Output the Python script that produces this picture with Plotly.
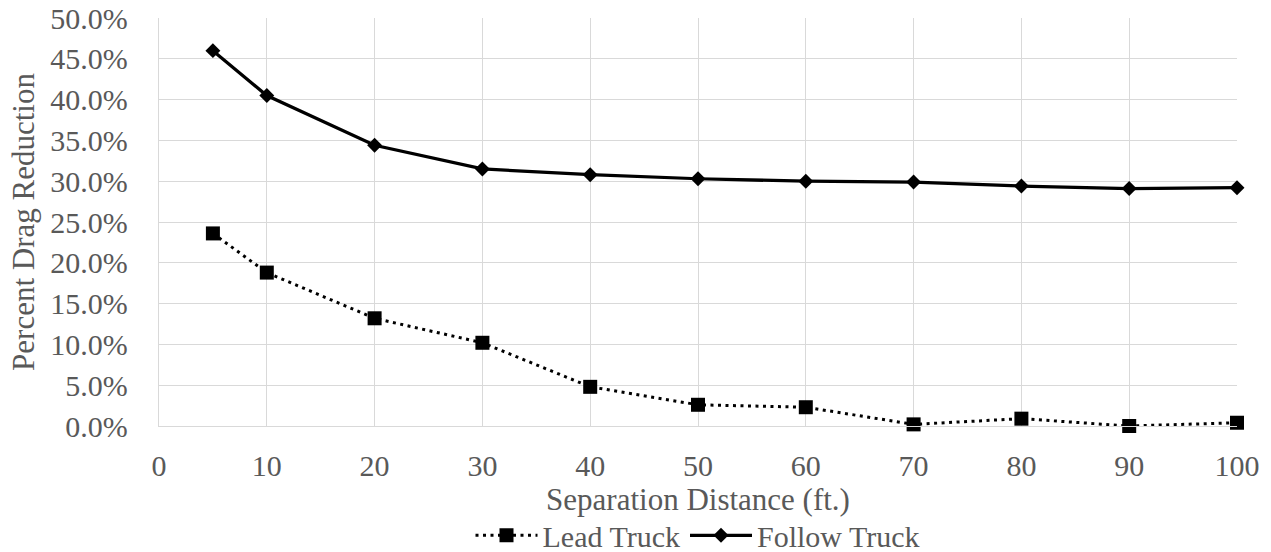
import plotly.graph_objects as go

# Separation distance (ft.) and percent drag reduction for each truck
separation_ft = [5, 10, 20, 30, 40, 50, 60, 70, 80, 90, 100]
lead_truck_pct = [23.6, 18.8, 13.2, 10.2, 4.8, 2.6, 2.3, 0.2, 0.9, 0.0, 0.4]
follow_truck_pct = [46.0, 40.5, 34.4, 31.5, 30.8, 30.3, 30.0, 29.9, 29.4, 29.1, 29.2]

x_ticks = [0, 10, 20, 30, 40, 50, 60, 70, 80, 90, 100]
y_ticks = [0, 5, 10, 15, 20, 25, 30, 35, 40, 45, 50]
y_tick_text = [f"{v:.1f}%" for v in y_ticks]

FONT = "Liberation Serif, Times New Roman, serif"
TEXT = "#595959"
GRID = "#d9d9d9"

fig = go.Figure()
fig.add_trace(go.Scatter(
    x=separation_ft, y=lead_truck_pct, name="Lead Truck",
    mode="lines+markers",
    line=dict(color="black", width=3, dash="3px,4.5px"),
    marker=dict(symbol="square", size=14, color="black"),
    cliponaxis=False,
))
fig.add_trace(go.Scatter(
    x=separation_ft, y=follow_truck_pct, name="Follow Truck",
    mode="lines+markers",
    line=dict(color="black", width=3.25),
    marker=dict(symbol="diamond", size=11.5, color="black"),
    cliponaxis=False,
))

fig.update_layout(
    width=1271, height=552,
    margin=dict(l=159, r=34, t=18, b=126, autoexpand=False),
    paper_bgcolor="white", plot_bgcolor="white",
    font=dict(family=FONT, size=30, color=TEXT),
    showlegend=True,
    legend=dict(
        orientation="h", x=0.5, xanchor="center", y=-0.268, yanchor="middle",
        font=dict(family=FONT, size=30, color=TEXT),
        traceorder="normal", tracegroupgap=0, itemwidth=62,
        bgcolor="rgba(0,0,0,0)",
    ),
)
fig.update_xaxes(
    range=[0, 100], tickvals=x_ticks, showgrid=True, gridcolor=GRID, gridwidth=1.3,
    zeroline=False, showline=True, linecolor=GRID, linewidth=1.3, automargin=False,
    ticks="", ticklabelstandoff=13, tickfont=dict(family=FONT, size=30, color=TEXT),
    title=dict(text="Separation Distance (ft.)", standoff=0,
               font=dict(family=FONT, size=31, color=TEXT)),
)
fig.update_yaxes(
    range=[0, 50], tickvals=y_ticks, ticktext=y_tick_text,
    showgrid=True, gridcolor=GRID, gridwidth=1.3,
    zeroline=False, showline=True, linecolor=GRID, linewidth=1.3, automargin=False,
    ticks="", ticklabelstandoff=24, tickfont=dict(family=FONT, size=30, color=TEXT),
    title=dict(text="Percent Drag Reduction", standoff=6,
               font=dict(family=FONT, size=31, color=TEXT)),
)

fig.write_html("out.html")
